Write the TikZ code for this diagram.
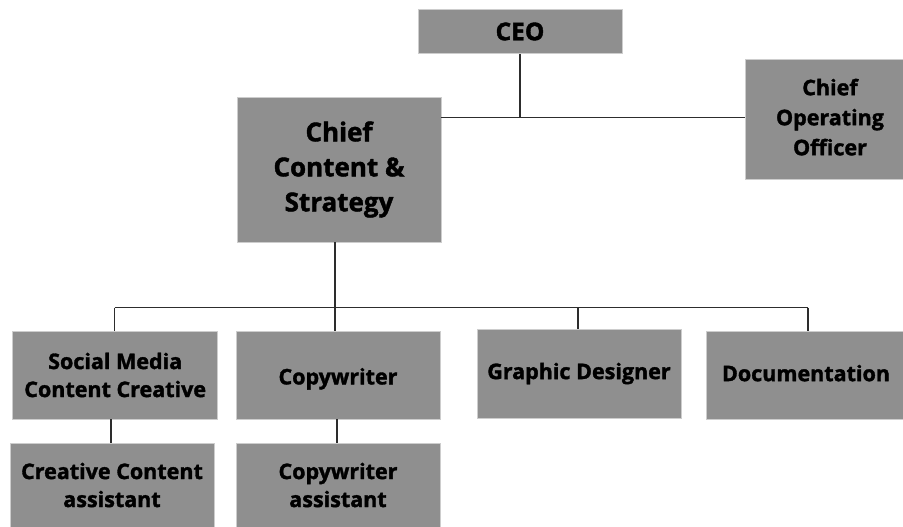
\documentclass[tikz,border=0pt]{standalone}
\usepackage{fontspec}
\setmainfont{Open Sans}[BoldFeatures={FakeBold=1.6}]
\definecolor{boxgray}{RGB}{143,143,143}
\definecolor{edgegray}{RGB}{205,205,205}
\definecolor{linegray}{RGB}{45,45,45}
\tikzset{
  orgbox/.style={rectangle, fill=boxgray, draw=edgegray, line width=0.7pt, inner sep=0pt,
    align=center, font=\bfseries\fontsize{21.5}{28}\selectfont, text=black},
  conn/.style={draw=linegray, line width=1.7pt}
}
\begin{document}
\begin{tikzpicture}[x=1pt,y=-1pt]
\useasboundingbox (0,0) rectangle (903,527);
\clip (0,0) rectangle (903,527);
\fill[white] (0,0) rectangle (903,527);
% nodes
\node[orgbox, minimum width=204pt, minimum height=44pt, font=\bfseries\fontsize{24.5}{30}\selectfont] (ceo) at (520,31.5) {CEO};
\node[orgbox, minimum width=204pt, minimum height=145pt, font=\bfseries\fontsize{26}{35}\selectfont] (ccs) at (339,169.5) {Chief\\Content \&\\Strategy};
\node[orgbox, minimum width=170pt, minimum height=120pt, font=\bfseries\fontsize{21.5}{30}\selectfont] (coo) at (830,119) {Chief\\Operating\\Officer\rule[-4pt]{0pt}{4pt}};
\node[orgbox, minimum width=205pt, minimum height=88pt] (smc) at (115.2,375) {Social Media\\Content Creative};
\node[orgbox, minimum width=204pt, minimum height=88pt] (cw) at (338,375) {\rule{0pt}{24pt}Copywriter};
\node[orgbox, minimum width=204pt, minimum height=89pt] (gd) at (579,373.5) {Graphic Designer};
\node[orgbox, minimum width=200pt, minimum height=88pt] (doc) at (806,375) {Documentation\rule[-4pt]{0pt}{4pt}};
\node[orgbox, minimum width=204pt, minimum height=84pt] (cca) at (112,485) {Creative Content\\assistant};
\node[orgbox, minimum width=204pt, minimum height=84pt] (cwa) at (338,485) {Copywriter\\assistant};
% junction coordinates
\coordinate (j1) at (520,117.5);
\coordinate (d1) at (114.5,307.5);
\coordinate (d2) at (335,307.5);
\coordinate (d3) at (578,307.5);
\coordinate (d4) at (808,307.5);
\coordinate (v1) at (111,430);
\coordinate (v2) at (337,430);
% connectors
\draw[conn] (ceo.south) -- (j1);
\draw[conn] (ccs.east |- j1) -- (coo.west |- j1);
\draw[conn] (ccs.south -| d2) -- (d2 |- cw.north);
\draw[conn] (d1) -- (d4);
\draw[conn] (d1) -- (d1 |- smc.north);
\draw[conn] (d3) -- (d3 |- gd.north);
\draw[conn] (d4) -- (d4 |- doc.north);
\draw[conn] (v1 |- smc.south) -- (v1 |- cca.north);
\draw[conn] (v2 |- cw.south) -- (v2 |- cwa.north);
\end{tikzpicture}
\end{document}
